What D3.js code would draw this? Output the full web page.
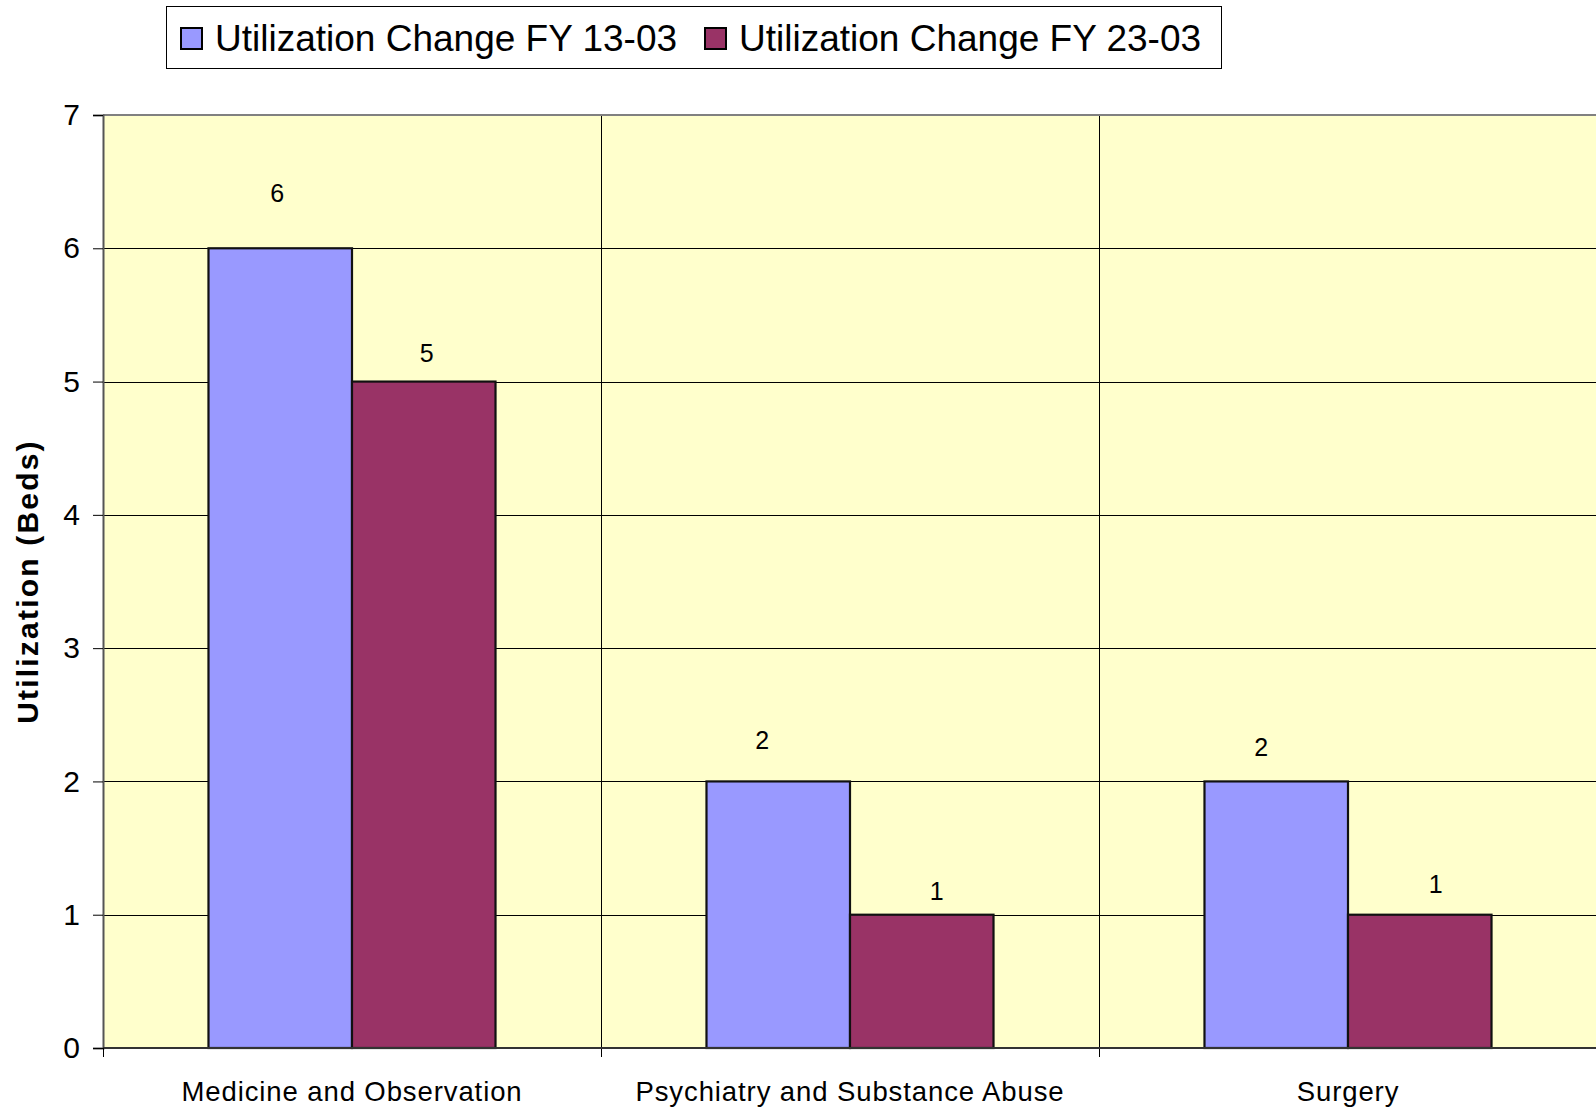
<!DOCTYPE html>
<html>
<head>
<meta charset="utf-8">
<script src="https://cdn.jsdelivr.net/npm/d3@7"></script>
<style>
  html, body { margin: 0; padding: 0; background: #fff; }
  svg { display: block; font-family: Arial, "Liberation Sans", sans-serif; }
</style>
</head>
<body>
<svg id="chart" width="1596" height="1111"></svg>
<script>
// Bed utilization change by service line
const categories = ["Medicine and Observation", "Psychiatry and Substance Abuse", "Surgery"];
const seriesNames = ["Utilization Change FY 13-03", "Utilization Change FY 23-03"];
const fy13Values = [6, 2, 2];
const fy23Values = [5, 1, 1];
const yTicks = [0, 1, 2, 3, 4, 5, 6, 7];

// Fine placement of the value labels, [dx, dy] per series and category
const labelShift = [
  [[-3, -46], [-16, -32], [-15, -25]],
  [[3, -20], [15, -15], [16, -22]]
];

const colors = ["#9999FF", "#993366"];
const seriesValues = [fy13Values, fy23Values];

const svg = d3.select("#chart");
const W = 1596, H = 1111;
const plot = { left: 103, top: 115, right: 1597, bottom: 1048 };

svg.append("rect").attr("width", W).attr("height", H).attr("fill", "#fff");

const x0 = d3.scaleBand().domain(categories).range([plot.left, plot.right]).paddingInner(0).paddingOuter(0);
const x1 = d3.scaleBand().domain(d3.range(seriesNames.length)).range([0, x0.bandwidth()]).paddingInner(0).paddingOuter(0.735);
const y = d3.scaleLinear().domain([0, 7]).range([plot.bottom, plot.top]);

// plot background
svg.append("rect")
  .attr("x", plot.left).attr("y", plot.top)
  .attr("width", plot.right - plot.left).attr("height", plot.bottom - plot.top)
  .attr("fill", "#FFFFCC");

// horizontal gridlines
svg.append("g").selectAll("line").data(yTicks.filter(t => t > 0 && t < 7)).join("line")
  .attr("x1", plot.left).attr("x2", plot.right)
  .attr("y1", d => Math.round(y(d)) + 0.5).attr("y2", d => Math.round(y(d)) + 0.5)
  .attr("stroke", "#000").attr("stroke-width", 1);

// vertical category separators
const seps = categories.slice(1).map(c => x0(c));
svg.append("g").selectAll("line").data(seps).join("line")
  .attr("x1", d => Math.round(d) + 0.5).attr("x2", d => Math.round(d) + 0.5)
  .attr("y1", plot.top).attr("y2", plot.bottom + 9)
  .attr("stroke", "#000").attr("stroke-width", 1);

// top border of the plot area
svg.append("line")
  .attr("x1", plot.left).attr("x2", plot.right)
  .attr("y1", plot.top).attr("y2", plot.top)
  .attr("stroke", "#808080").attr("stroke-width", 2);

// bars
const groups = svg.append("g").selectAll("g").data(categories).join("g")
  .attr("transform", d => `translate(${x0(d)},0)`);
groups.selectAll("rect").data((c, ci) => seriesValues.map((vals, si) => ({ si, v: vals[ci] }))).join("rect")
  .attr("x", d => x1(d.si))
  .attr("y", d => y(d.v))
  .attr("width", x1.bandwidth())
  .attr("height", d => y(0) - y(d.v))
  .attr("fill", d => colors[d.si])
  .attr("stroke", "#111").attr("stroke-width", 2.2);

// value labels
groups.selectAll("text").data((c, ci) => seriesValues.map((vals, si) => ({ si, ci, v: vals[ci] }))).join("text")
  .attr("x", d => x1(d.si) + x1.bandwidth() / 2 + labelShift[d.si][d.ci][0])
  .attr("y", d => y(d.v) + labelShift[d.si][d.ci][1])
  .attr("text-anchor", "middle")
  .attr("font-size", 25)
  .attr("fill", "#000")
  .text(d => d.v);

// y axis
const yAxis = svg.append("g").attr("transform", `translate(${plot.left},0)`)
  .call(d3.axisLeft(y).tickValues(yTicks).tickSize(10).tickPadding(13).tickFormat(d3.format("d")));
yAxis.select(".domain").attr("stroke", "#555").attr("stroke-width", 2);
yAxis.selectAll(".tick line").attr("stroke", "#000");
yAxis.selectAll(".tick text").attr("font-size", 30).attr("fill", "#000")
  .attr("font-family", "Arial, 'Liberation Sans', sans-serif");

// x axis
const xAxis = svg.append("g").attr("transform", `translate(0,${plot.bottom})`)
  .call(d3.axisBottom(x0).tickSize(0).tickPadding(33));
xAxis.select(".domain").remove();
xAxis.selectAll(".tick text").attr("font-size", 27.5).attr("fill", "#000")
  .attr("letter-spacing", "0.9px")
  .attr("font-family", "Arial, 'Liberation Sans', sans-serif");
svg.append("line")
  .attr("x1", plot.left).attr("x2", plot.right)
  .attr("y1", plot.bottom).attr("y2", plot.bottom)
  .attr("stroke", "#333").attr("stroke-width", 2);
svg.append("line")
  .attr("x1", plot.left + 0.5).attr("x2", plot.left + 0.5)
  .attr("y1", plot.bottom).attr("y2", plot.bottom + 9)
  .attr("stroke", "#000");

// y axis title
svg.append("text")
  .attr("transform", `translate(38,${(plot.top + plot.bottom) / 2}) rotate(-90)`)
  .attr("text-anchor", "middle")
  .attr("font-size", 30).attr("font-weight", "bold")
  .attr("letter-spacing", "2.2px")
  .text("Utilization (Beds)");

// legend
const legend = svg.append("g");
legend.append("rect")
  .attr("x", 166.5).attr("y", 6.5).attr("width", 1055).attr("height", 62)
  .attr("fill", "#fff").attr("stroke", "#000").attr("stroke-width", 1);
const legendX = [180, 704];
seriesNames.forEach((name, i) => {
  legend.append("rect")
    .attr("x", legendX[i] + 1).attr("y", 28).attr("width", 21).attr("height", 21)
    .attr("fill", colors[i]).attr("stroke", "#000").attr("stroke-width", 2);
  legend.append("text")
    .attr("x", legendX[i] + 35).attr("y", 51)
    .attr("font-size", 37).attr("fill", "#000")
    .text(name);
});
</script>
</body>
</html>
